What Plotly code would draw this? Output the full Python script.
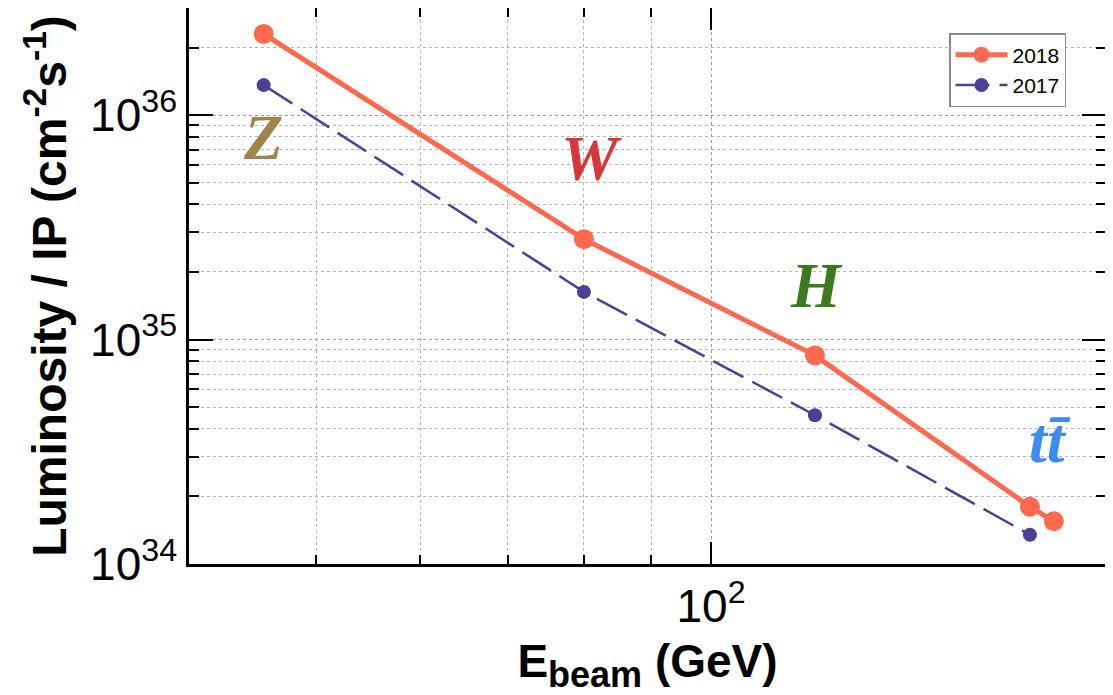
import plotly.graph_objects as go

# Data
energy_2018 = [45.6, 80, 120, 175, 182.5]
lumi_2018 = [2.3e36, 2.8e35, 8.5e34, 1.8e34, 1.55e34]
energy_2017 = [45.6, 80, 120, 175]
lumi_2017 = [1.36e36, 1.63e35, 4.6e34, 1.35e34]

x_minor = [40, 50, 60, 70, 80, 90, 200]
y_major = [1e34, 1e35, 1e36]
y_major_text = ["10<sup>34</sup>", "10<sup>35</sup>", "10<sup>36</sup>"]
y_minor = [float(m) * 10.0**e for e in (34, 35) for m in range(2, 10)] + [2e36, 3e36]

c18 = "#FF6A4F"
c17 = "#4D3F96"

fig = go.Figure()
fig.add_trace(go.Scatter(
    x=energy_2018, y=lumi_2018, name="2018", mode="lines+markers",
    line=dict(color=c18, width=5), marker=dict(color=c18, size=20)))
fig.add_trace(go.Scatter(
    x=energy_2017, y=lumi_2017, name="2017", mode="lines+markers",
    line=dict(color=c17, width=2.5, dash="34px,10px"), marker=dict(color=c17, size=14)))

# page has an 8px body margin; compensate
OFF = 8
W, H = 1113 - OFF, 695 - OFF
L, R, T, B = 189 - OFF, 7, 0, 131
pw, ph = W - L - R, H - T - B


def px2paper(px, py):
    return (px - OFF - L) / pw, 1 - (py - OFF - T) / ph


labels = [
    ("<b><i>Z</i></b>", 263, 137, "#A2844A"),
    ("<b><i>W</i></b>", 591, 158, "#D8373A"),
    ("<b><i>H</i></b>", 816, 285, "#3C7A1E"),
    ("<b><i>tt\u0304</i></b>", 1050, 440, "#3D8BF2"),
]
for txt, px, py, col in labels:
    xp, yp = px2paper(px, py)
    fig.add_annotation(x=xp, y=yp, xref="paper", yref="paper", text=txt,
                       showarrow=False, font=dict(family="Liberation Serif", size=64, color=col),
                       xanchor="center", yanchor="middle")

axis_common = dict(
    showline=True, linecolor="black", linewidth=2.5, mirror="ticks",
    ticks="inside", tickcolor="black", tickwidth=2,
    showgrid=True, gridcolor="#9a9a9a", griddash="dot", gridwidth=1,
    zeroline=False, automargin=False,
    tickfont=dict(family="Liberation Sans, Arial", size=46, color="black"),
)

fig.update_xaxes(
    type="log", range=[1.60206, 2.30103],
    tickvals=[100], ticktext=["10<sup>2</sup>"], ticklen=22,
    minor=dict(tickvals=x_minor, ticklen=9, tickcolor="black", tickwidth=1.5,
               showgrid=True, gridcolor="#b5b5b5", griddash="dot", gridwidth=1, ticks="inside"),
    title=dict(text="<b>E<sub><span style='font-size:36px'>beam</span></sub> (GeV)</b>", standoff=20,
               font=dict(family="Liberation Sans, Arial", size=46, color="black")),
    **axis_common)
fig.update_yaxes(
    type="log", range=[34, 36.4771],
    tickvals=y_major, ticktext=y_major_text, ticklen=24,
    minor=dict(tickvals=y_minor, ticklen=10, tickcolor="black", tickwidth=1.5,
               showgrid=True, gridcolor="#b5b5b5", griddash="dot", gridwidth=1, ticks="inside"),
    title=dict(text="<b>Luminosity / IP (cm<sup>-2</sup>s<sup>-1</sup>)</b>", standoff=9,
               font=dict(family="Liberation Sans, Arial", size=48, color="black")),
    **axis_common)

lx, ly = px2paper(949, 33)
fig.update_layout(
    width=W, height=H,
    margin=dict(l=L, r=R, t=T, b=B, pad=0),
    paper_bgcolor="white", plot_bgcolor="white",
    showlegend=True,
    legend=dict(x=lx, y=ly, xanchor="left", yanchor="top",
                bgcolor="white", bordercolor="#8a8a8a", borderwidth=1.5,
                font=dict(family="Liberation Sans, Arial", size=21, color="black"),
                traceorder="normal", tracegroupgap=0, itemwidth=52),
)

fig.write_html("out.html")
